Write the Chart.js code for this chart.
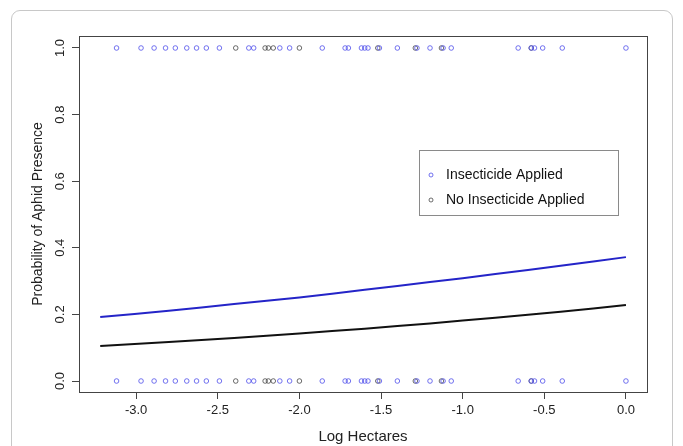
<!DOCTYPE html>
<html>
<head>
<meta charset="utf-8">
<script src="https://cdn.jsdelivr.net/npm/chart.js@4.4.1/dist/chart.umd.min.js"></script>
<style>
  html, body { margin: 0; padding: 0; background: #fff; overflow: hidden; }
  #card {
    position: absolute; left: 11px; top: 10px; width: 660px; height: 470px;
    border: 1px solid #c8c8c8; border-radius: 9px;
  }
  #wrap { position: absolute; left: 0; top: 0; width: 683px; height: 446px; }
</style>
</head>
<body>
<div id="card"></div>
<div id="wrap"><canvas id="aphidChart" width="683" height="446"></canvas></div>
<script>
// observed sites (log hectares), same positions at presence = 1 and 0
var insecticideX = [-3.12, -2.97, -2.89, -2.82, -2.76, -2.69, -2.63, -2.57, -2.49, -2.31, -2.28,
  -2.12, -2.06, -1.86, -1.72, -1.70, -1.62, -1.60, -1.58, -1.51, -1.40, -1.28, -1.20, -1.12,
  -1.07, -0.66, -0.58, -0.56, -0.51, -0.39, 0.00];
var noInsecticideX = [-2.39, -2.21, -2.19, -2.16, -2.00, -1.52, -1.29, -1.13, -0.58];

// fitted curves
var curveX = [-3.22, -2.8, -2.4, -2.0, -1.6, -1.2, -0.8, -0.4, 0.0];
var insecticideFit = [0.192, 0.211, 0.231, 0.251, 0.274, 0.297, 0.321, 0.346, 0.372];
var noInsecticideFit = [0.105, 0.117, 0.129, 0.143, 0.157, 0.173, 0.190, 0.208, 0.228];

var xTicks = [-3.0, -2.5, -2.0, -1.5, -1.0, -0.5, 0.0];
var yTicks = [0.0, 0.2, 0.4, 0.6, 0.8, 1.0];

var blueDot = "rgba(80, 80, 235, 0.8)";
var greyDot = "rgba(60, 60, 60, 0.75)";
var fontFamily = "'Liberation Sans', Arial, sans-serif";

function toPoints(xs, ys) {
  var pts = [];
  for (let i = 0; i < xs.length; i++) {
    pts.push({ x: xs[i], y: Array.isArray(ys) ? ys[i] : ys });
  }
  return pts;
}

function dotSet(label, xs, yVal, color) {
  return {
    type: "scatter",
    label: label,
    data: toPoints(xs, yVal),
    pointStyle: "circle",
    pointRadius: 2.3,
    pointBorderWidth: 1,
    borderColor: color,
    backgroundColor: "rgba(0,0,0,0)",
    showLine: false,
  };
}

function lineSet(label, xs, ys, color) {
  return {
    type: "line",
    label: label,
    data: toPoints(xs, ys),
    borderColor: color,
    borderWidth: 2,
    pointRadius: 0,
    tension: 0.3,
    fill: false,
  };
}

// plot frame, vertical y labels and legend box, R style
const framePlugin = {
  id: "frame",
  afterDraw(chart) {
    const ctx = chart.ctx;
    const a = chart.chartArea;
    const yScale = chart.scales.y;
    ctx.save();
    ctx.strokeStyle = "#444";
    ctx.lineWidth = 1;
    ctx.strokeRect(a.left + 0.5, a.top + 0.5, a.right - a.left, a.bottom - a.top);

    // y tick labels read bottom to top
    ctx.fillStyle = "#222";
    ctx.font = "13px " + fontFamily;
    ctx.textAlign = "center";
    ctx.textBaseline = "middle";
    yScale.ticks.forEach(function (t) {
      const py = yScale.getPixelForValue(t.value);
      ctx.save();
      ctx.translate(60, py);
      ctx.rotate(-Math.PI / 2);
      ctx.fillText(t.value.toFixed(1), 0, 0);
      ctx.restore();
    });

    // legend
    ctx.strokeStyle = "#8a8a8a";
    ctx.strokeRect(419.5, 150.5, 199, 65);
    const items = [
      { text: "Insecticide Applied", color: blueDot, y: 175 },
      { text: "No Insecticide Applied", color: greyDot, y: 200 },
    ];
    ctx.font = "14px " + fontFamily;
    ctx.textAlign = "left";
    ctx.fillStyle = "#111";
    items.forEach(function (it) {
      ctx.beginPath();
      ctx.strokeStyle = it.color;
      ctx.arc(431, it.y, 2, 0, Math.PI * 2);
      ctx.stroke();
      ctx.fillText(it.text, 446, it.y);
    });
    ctx.restore();
  },
};

const aphidChart = new Chart(document.getElementById("aphidChart"), {
  data: {
    datasets: [
      lineSet("Insecticide fit", curveX, insecticideFit, "#2424c8"),
      lineSet("No insecticide fit", curveX, noInsecticideFit, "#111111"),
      dotSet("Insecticide Applied", insecticideX, 1, blueDot),
      dotSet("Insecticide Applied", insecticideX, 0, blueDot),
      dotSet("No Insecticide Applied", noInsecticideX, 1, greyDot),
      dotSet("No Insecticide Applied", noInsecticideX, 0, greyDot),
    ],
  },
  options: {
    responsive: false,
    animation: false,
    layout: { padding: { left: 0, right: 36, top: 36, bottom: 0 } },
    plugins: {
      legend: { display: false },
      tooltip: { enabled: false },
    },
    scales: {
      x: {
        type: "linear",
        min: -3.35,
        max: 0.129,
        afterBuildTicks: (scale) => { scale.ticks = xTicks.map((v) => ({ value: v })); },
        afterFit: (scale) => { scale.height = 54; },
        grid: { drawOnChartArea: false, tickLength: 7, color: "#444", tickWidth: 1 },
        border: { display: false },
        ticks: {
          color: "#222",
          padding: 4,
          maxRotation: 0,
          font: { family: fontFamily, size: 13 },
          callback: (value) => value.toFixed(1),
        },
        title: {
          display: true,
          text: "Log Hectares",
          color: "#222",
          padding: { top: 5, bottom: 0 },
          font: { family: fontFamily, size: 15 },
        },
      },
      y: {
        type: "linear",
        min: -0.033,
        max: 1.036,
        afterBuildTicks: (scale) => { scale.ticks = yTicks.map((v) => ({ value: v })); },
        afterFit: (scale) => { scale.width = 79; },
        grid: { drawOnChartArea: false, tickLength: 7, color: "#444", tickWidth: 1 },
        border: { display: false },
        ticks: { display: false },
        title: {
          display: true,
          text: "Probability of Aphid Presence",
          color: "#222",
          padding: { top: 30, bottom: 0 },
          font: { family: fontFamily, size: 14 },
        },
      },
    },
  },
  plugins: [framePlugin],
});
</script>
</body>
</html>
